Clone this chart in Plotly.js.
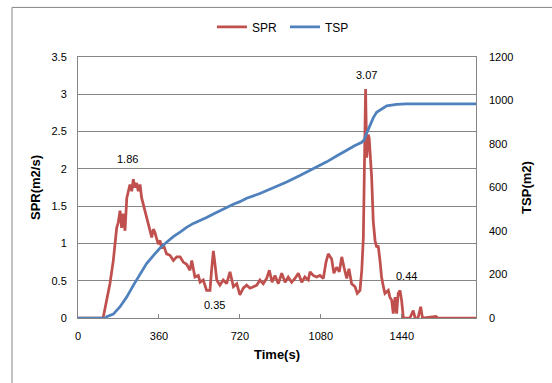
<!DOCTYPE html>
<html>
<head>
<meta charset="utf-8">
<script src="https://cdn.plot.ly/plotly-3.0.1.min.js"></script>
<style>
html,body{margin:0;padding:0;background:#fff;}
#chart{width:552px;height:383px;}
</style>
</head>
<body>
<div id="chart"></div>
<script>
// SPR (m2/s) series
var sprTime = [0,111,113,128,142,157,165,172,179,187,194,201,209,217,224,231,239,246,253,261,268,276,283,290,298,305,313,320,328,335,342,350,357,365,372,379,387,394,409,424,439,454,468,483,498,506,520,535,543,557,572,587,594,602,609,617,631,646,661,676,691,706,720,735,750,765,780,795,809,824,839,851,863,876,891,906,921,935,950,965,980,995,1009,1024,1032,1046,1061,1076,1091,1103,1113,1128,1138,1150,1162,1173,1183,1195,1205,1217,1232,1242,1254,1262,1269,1273,1279,1284,1291,1295,1302,1306,1313,1321,1328,1335,1343,1350,1358,1365,1380,1387,1395,1402,1410,1417,1424,1432,1439,1447,1476,1491,1499,1512,1524,1532,1592,1601,1770];
var sprValue = [0,0,0.02,0.24,0.46,0.77,1.00,1.21,1.28,1.44,1.21,1.40,1.17,1.61,1.70,1.79,1.70,1.86,1.75,1.81,1.70,1.79,1.61,1.53,1.44,1.35,1.26,1.21,1.08,1.19,1.15,1.06,0.99,1.04,0.93,0.99,0.90,0.86,0.84,0.77,0.82,0.82,0.75,0.72,0.64,0.77,0.55,0.57,0.48,0.51,0.37,0.37,0.64,0.90,0.73,0.51,0.44,0.51,0.46,0.62,0.42,0.46,0.31,0.40,0.44,0.40,0.42,0.44,0.51,0.46,0.53,0.64,0.48,0.57,0.46,0.60,0.48,0.55,0.48,0.53,0.60,0.48,0.55,0.51,0.62,0.57,0.55,0.57,0.53,0.75,0.86,0.79,0.60,0.68,0.62,0.82,0.68,0.53,0.66,0.46,0.42,0.33,0.37,0.64,1.08,1.84,3.07,2.15,2.46,2.41,2.15,1.88,1.30,1.04,0.95,0.97,0.77,0.55,0.42,0.33,0.37,0.28,0.24,0.06,0.28,0.06,0.33,0.37,0.24,0,0,0.10,0,0,0.15,0,0.02,0,0];

// TSP (m2) series
var tspTime = [0,125,128,157,187,217,246,276,305,335,365,394,424,454,483,513,543,572,602,631,661,691,720,750,809,868,928,987,1046,1106,1150,1195,1230,1262,1273,1284,1298,1313,1328,1350,1373,1417,1462,1770];
var tspValue = [0,0,6,18,52,97,150,204,250,287,322,348,374,395,417,435,447,462,478,493,508,523,535,551,572,598,625,655,686,718,745,772,792,808,820,850,888,920,946,962,975,982,985,985];

// Tick labels and data labels
var xTicks = [0,360,720,1080,1440];
var yTicksLeft = [0,0.5,1,1.5,2,2.5,3,3.5];
var yTicksRight = [0,200,400,600,800,1000,1200];
var labelText = ["1.86","3.07","0.35","0.44"];
var labelX = [218,1284,605,1459];
var labelY = [2.13,3.26,0.17,0.56];

var FONT = "Liberation Sans, Arial, sans-serif";
var GRID = "#868686";

var traces = [
  {x: sprTime, y: sprValue, name: "SPR", type: "scatter", mode: "lines",
   line: {color: "#C0504D", width: 2.75}, yaxis: "y"},
  {x: tspTime, y: tspValue, name: "TSP", type: "scatter", mode: "lines",
   line: {color: "#4F81BD", width: 2.75}, yaxis: "y2"}
];

var annotations = labelText.map(function(t, i){
  return {x: labelX[i], y: labelY[i], xref: "x", yref: "y", text: t,
          showarrow: false, font: {family: FONT, size: 11, color: "#000"}};
});

var layout = {
  width: 552, height: 383,
  margin: {l: 78, r: 76, t: 55, b: 65},
  paper_bgcolor: "#fff", plot_bgcolor: "#fff",
  font: {family: FONT, size: 11, color: "#000"},
  showlegend: true,
  legend: {orientation: "h", x: 0.52, y: 1.115, xanchor: "center", yanchor: "middle",
           font: {family: FONT, size: 12, color: "#000"}, itemwidth: 30, tracegroupgap: 0,
           entrywidth: 28, entrywidthmode: "pixels"},
  xaxis: {range: [0, 1770], tickvals: xTicks, ticktext: xTicks.map(String),
          showgrid: false, zeroline: false, showline: true, linecolor: GRID, linewidth: 1,
          mirror: true, ticks: "inside", ticklen: 4, tickcolor: GRID,
          ticklabelstandoff: 8,
          title: {text: "<b>Time(s)</b>", font: {family: FONT, size: 13, color: "#000"}, standoff: 8}},
  yaxis: {range: [0, 3.5], tickvals: yTicksLeft, ticktext: ["0","0.5","1","1.5","2","2.5","3","3.5"],
          showgrid: true, gridcolor: GRID, gridwidth: 1, zeroline: false,
          showline: true, linecolor: GRID, linewidth: 1, mirror: true, ticks: "",
          ticklabelstandoff: 8,
          title: {text: "<b>SPR(m2/s)</b>", font: {family: FONT, size: 13, color: "#000"}, standoff: 7}},
  yaxis2: {range: [0, 1200], tickvals: yTicksRight, ticktext: yTicksRight.map(String),
           overlaying: "y", side: "right", showgrid: false, zeroline: false, showline: false,
           ticks: "", ticklabelstandoff: 12,
           title: {text: "<b>TSP(m2)</b>", font: {family: FONT, size: 13, color: "#000"}, standoff: 9}},
  annotations: annotations,
  shapes: [
    {type: "line", xref: "paper", yref: "paper", x0: -0.1658, x1: -0.1658, y0: -0.5, y1: 1.19,
     line: {color: GRID, width: 1}},
    {type: "line", xref: "paper", yref: "paper", x0: -0.1658, x1: 1.3, y0: 1.19, y1: 1.19,
     line: {color: GRID, width: 1}}
  ]
};

Plotly.newPlot("chart", traces, layout, {staticPlot: true, displayModeBar: false});
</script>
</body>
</html>
